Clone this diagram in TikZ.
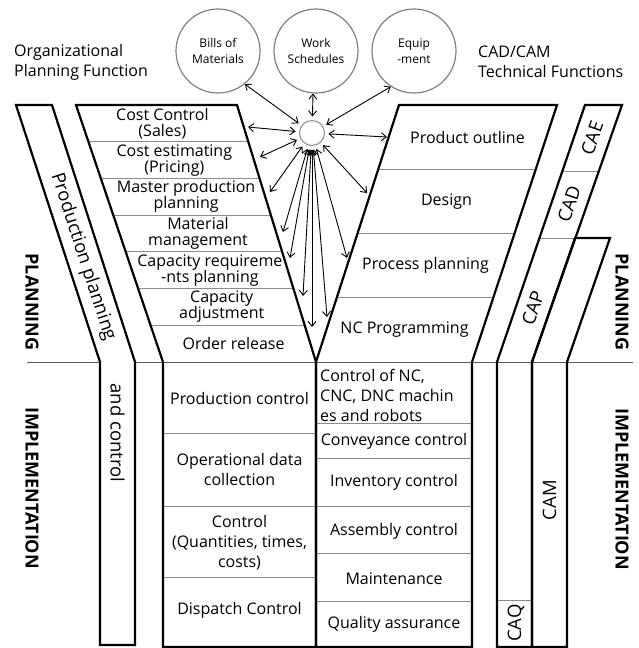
\documentclass[tikz,border=0pt]{standalone}
\usepackage{fontspec}
\setmainfont{Open Sans}
\usetikzlibrary{arrows.meta,calc}
\begin{document}
\begin{tikzpicture}[x=1pt,y=-1pt,
  thickline/.style={line width=2.2pt, line join=miter},
  sepline/.style={draw=black!45, line width=0.9pt},
  txt/.style={font=\fontsize{16}{16}\selectfont, align=center, inner sep=0pt},
  txtb/.style={font=\fontsize{16}{20}\selectfont, align=center, inner sep=0pt},
  hdr/.style={font=\fontsize{16}{20}\selectfont, align=left, inner sep=0pt, anchor=west},
  big/.style={font=\fontsize{18.5}{20}\selectfont, inner sep=0pt},
  side/.style={font=\fontsize{18}{20}\selectfont\bfseries, inner sep=0pt, rotate=-90},
  circ/.style={circle, draw=black!50, line width=1.2pt, minimum size=84pt, inner sep=0pt,
    font=\fontsize{12}{16}\selectfont, align=center},
  arr/.style={line width=0.9pt, {Straight Barb[length=5pt,width=8pt]}-{Straight Barb[length=5pt,width=8pt]}}
]
\useasboundingbox (0,0) rectangle (638,648);

% key corners
\coordinate (LTL) at (76,105);
\coordinate (LBL) at (163,362);
\coordinate (LTR) at (237,105);
\coordinate (V) at (316,362);
\coordinate (RTL) at (399,105);
\coordinate (RTR) at (557,105);
\coordinate (RBR) at (472,362);

% horizontal divider planning / implementation
\draw[draw=black!65, line width=0.9pt] (27,362) -- (100,362);
\draw[draw=black!65, line width=0.9pt] (135,362) -- (633,362);

% separators upper left
\foreach \k in {1,...,6}
  \draw[sepline] ($(LTL)!\k/7!(LBL)$) -- ($(LTR)!\k/7!(V)$);
% separators upper right
\foreach \k in {1,2,3}
  \draw[sepline] ($(RTL)!\k/4!(V)$) -- ($(RTR)!\k/4!(RBR)$);
% separators lower left
\foreach \yy in {433,506,577}
  \draw[sepline] (163,\yy) -- (316,\yy);
% separators lower right
\foreach \yy in {423,458,506,553,601}
  \draw[sepline] (316,\yy) -- (472,\yy);
% strip separators
\draw[sepline] (562.4,171) -- (598.9,171);
\draw[sepline] (540,238) -- (575,238);
\draw[sepline] (497,600) -- (532,600);

% main outlines
\draw[thickline] (LTL) -- (LTR) -- (V) -- (316,647) -- (163,647) -- (LBL) -- cycle;
\draw[thickline] (RTL) -- (RTR) -- (RBR) -- (472,647) -- (316,647) -- (V) -- cycle;
% production planning strip
\draw[thickline] (16,105) -- (52,105) -- (135,362) -- (135,645) -- (100,645) -- (100,362) -- cycle;
% CAE/CAD/CAP/CAQ strip
\draw[thickline] (585,105) -- (622,105) -- (532,362) -- (532,647) -- (497,647) -- (497,362) -- cycle;
% CAM strip
\draw[thickline] (575,238) -- (610,238) -- (567,362) -- (567,647) -- (532,647) -- (532,362) -- cycle;

% headers
\node[hdr] (hl) at (14,62) {Organizational\\Planning Function};
\node[hdr] (hr) at (478,62) {CAD/CAM\\Technical Functions};

% data circles
\node[circ] (bom) at (218,51) {Bills of\\Materials};
\node[circ] (ws) at (316,51) {Work\\Schedules};
\node[circ] (eq) at (414,51) {Equip\\-ment};
\node[circle, draw=black!45, line width=1pt, minimum size=25pt, inner sep=0pt, outer sep=4pt] (hub) at (312,133) {};

% arrow targets
\coordinate (tcc) at (248,127);
\coordinate (tce) at (260,157);
\coordinate (tmp) at (270,192);
\coordinate (tmm) at (283,232);
\coordinate (tcr) at (290,258);
\coordinate (tca) at (303,296);
\coordinate (tor) at (312,327);
\coordinate (tpo) at (387,137);
\coordinate (tde) at (367,193);
\coordinate (tpp) at (347,258);
\coordinate (tnc) at (327,317);

\draw[arr] (hub) -- (bom.-51);
\draw[arr] (hub) -- (ws.266);
\draw[arr] (hub) -- (eq.237);
\foreach \t in {tcc,tce,tmp,tmm,tcr,tca,tor,tpo,tde,tpp,tnc}
  \draw[arr] (hub) -- (\t);

% upper left cells
\node[txt] (c1) at (162.4,123.4) {Cost Control\\(Sales)};
\node[txt] (c2) at (174.3,160.1) {Cost estimating\\(Pricing)};
\node[txt] (c3) at (186.1,196.8) {Master production\\planning};
\node[txt] (c4) at (198.0,233.5) {Material\\management};
\node[txt] (c5) at (209.9,270.2) {Capacity requireme\\-nts planning};
\node[txt] (c6) at (221.7,307.0) {Capacity\\adjustment};
\node[txt] (c7) at (233.6,343.7) {Order release};

% upper right cells
\node[txt] (r1) at (467.5,137.1) {Product outline};
\node[txt] (r2) at (446.5,201.4) {Design};
\node[txt] (r3) at (425.5,265.6) {Process planning};
\node[txt] (r4) at (404.5,329.8) {NC Programming};

% lower left cells
\node[txtb] (l1) at (239.5,398) {Production control};
\node[txtb] (l2) at (239.5,469) {Operational data\\collection};
\node[txtb] (l3) at (239.5,543) {Control\\(Quantities, times,\\costs)};
\node[txtb] (l4) at (239.5,610) {Dispatch Control};

% lower right cells
\node[txtb, align=left, anchor=west] (m1) at (320,395) {Control of NC,\\CNC, DNC machin\\es and robots};
\node[txtb] (m2) at (394,441) {Conveyance control};
\node[txtb] (m3) at (394,482) {Inventory control};
\node[txtb] (m4) at (394,531) {Assembly control};
\node[txtb] (m5) at (394,579) {Maintenance};
\node[txtb] (m6) at (394,624) {Quality assurance};

% strip labels
\node[big, rotate=-72] (ppl) at (83,257) {Production planning};
\node[big, rotate=-90] (acl) at (117.5,433) {and control};
\node[big, rotate=71] (cae) at (592,138) {CAE};
\node[big, rotate=71] (cad) at (569,204) {CAD};
\node[big, rotate=71] (cap) at (533,308) {CAP};
\node[big, rotate=90] (cam) at (549.5,500) {CAM};
\node[big, rotate=90] (caq) at (516,623) {CAQ};

% side labels
\node[side] (pl1) at (32,302) {PLANNING};
\node[side] (im1) at (32,488) {IMPLEMENTATION};
\node[side] (pl2) at (622,302) {PLANNING};
\node[side] (im2) at (622,489) {IMPLEMENTATION};
\end{tikzpicture}
\end{document}
